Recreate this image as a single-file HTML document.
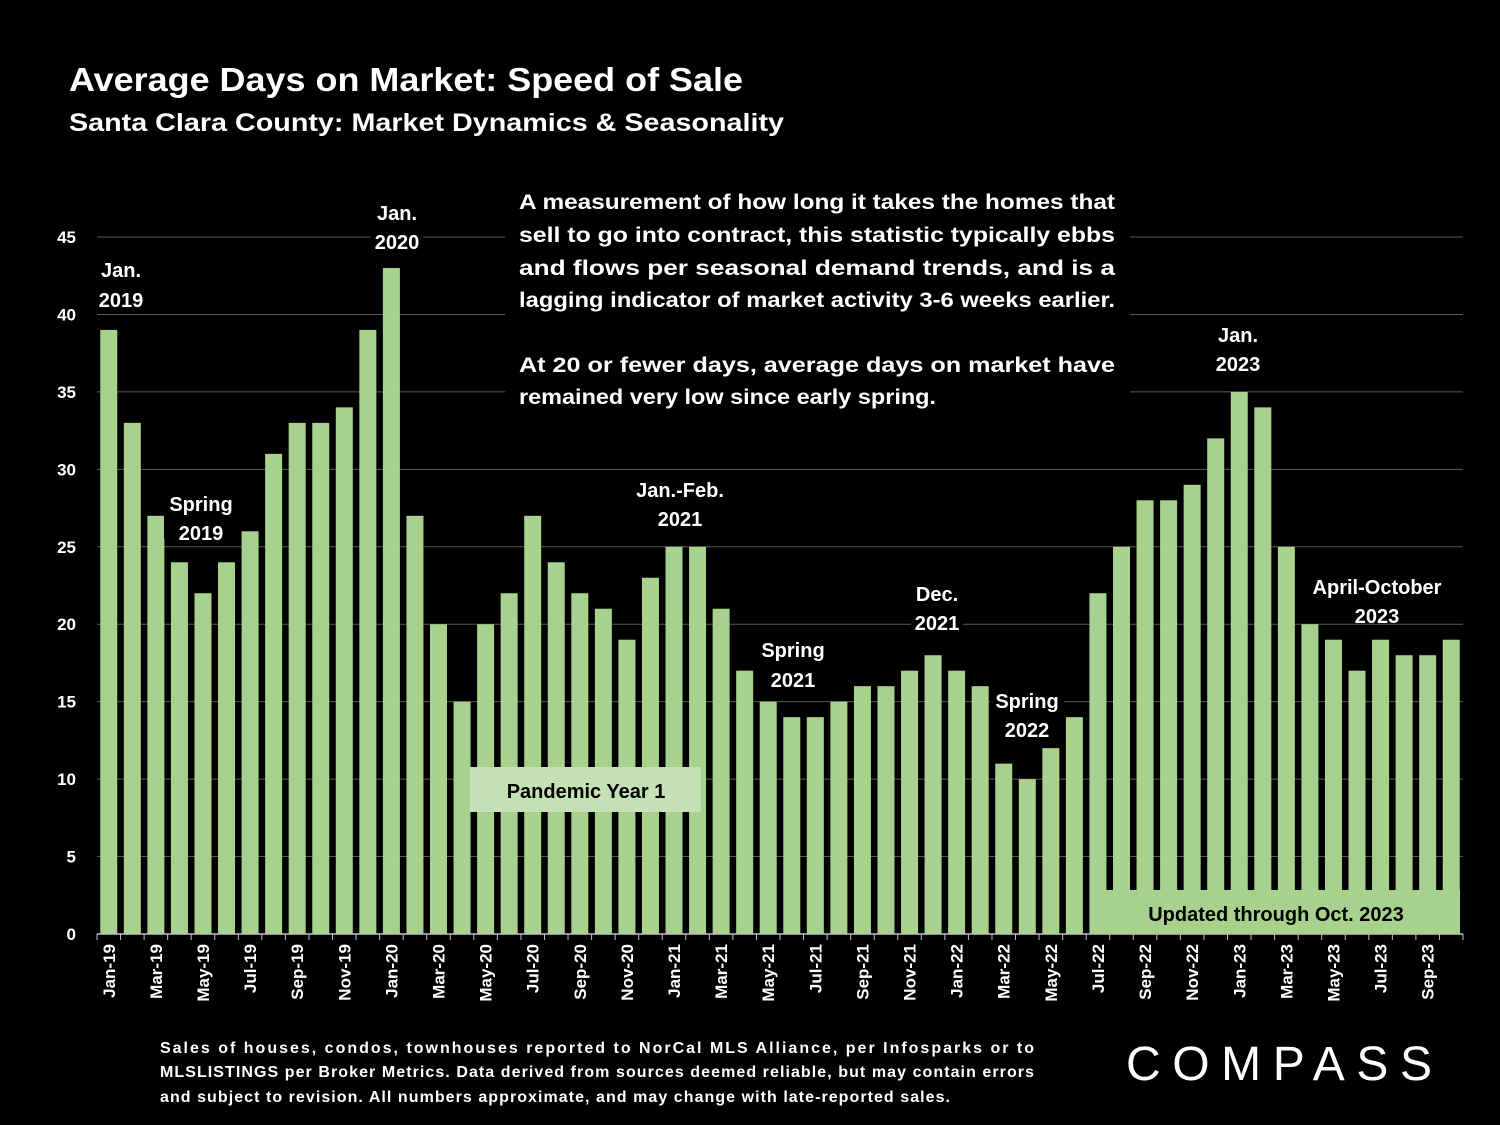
<!DOCTYPE html>
<html><head><meta charset="utf-8"><style>
body{margin:0;background:#000;width:1500px;height:1125px;overflow:hidden;font-family:"Liberation Sans",sans-serif;color:#fff}
</style></head><body>
<svg id="chart" width="1500" height="1125" xmlns="http://www.w3.org/2000/svg" style="position:absolute;left:0;top:0;font-family:'Liberation Sans',sans-serif;font-weight:bold">
<rect width="1500" height="1125" fill="#000"/>
<text x="69" y="91" font-size="33" fill="#fff" textLength="674" lengthAdjust="spacingAndGlyphs">Average Days on Market: Speed of Sale</text>
<text x="69" y="131" font-size="25" fill="#fff" textLength="715" lengthAdjust="spacingAndGlyphs">Santa Clara County: Market Dynamics &amp; Seasonality</text>
<g id="grid"></g><g id="bars"></g><g id="axes"></g>
<g id="overlays"></g>
</svg>
<script>
const categories=["Jan-19","Feb-19","Mar-19","Apr-19","May-19","Jun-19","Jul-19","Aug-19","Sep-19","Oct-19","Nov-19","Dec-19","Jan-20","Feb-20","Mar-20","Apr-20","May-20","Jun-20","Jul-20","Aug-20","Sep-20","Oct-20","Nov-20","Dec-20","Jan-21","Feb-21","Mar-21","Apr-21","May-21","Jun-21","Jul-21","Aug-21","Sep-21","Oct-21","Nov-21","Dec-21","Jan-22","Feb-22","Mar-22","Apr-22","May-22","Jun-22","Jul-22","Aug-22","Sep-22","Oct-22","Nov-22","Dec-22","Jan-23","Feb-23","Mar-23","Apr-23","May-23","Jun-23","Jul-23","Aug-23","Sep-23","Oct-23"];
const values=[39,33,27,24,22,24,26,31,33,33,34,39,43,27,20,15,20,22,27,24,22,21,19,23,25,25,21,17,15,14,14,15,16,16,17,18,17,16,11,10,12,14,22,25,28,28,29,32,35,34,25,20,19,17,19,18,18,19];
const yTicks=[0,5,10,15,20,25,30,35,40,45];
const NS="http://www.w3.org/2000/svg";
const x0=97,x1=1463,y0=934,yTop=237;
const band=(x1-x0)/categories.length;
const xc=i=>x0+band*(i+0.5);
const y=v=>y0-(v/45)*(y0-yTop);
function mk(t,a,p){const e=document.createElementNS(NS,t);for(const k in a)e.setAttribute(k,a[k]);p.appendChild(e);return e;}
const grid=document.getElementById('grid'),bars=document.getElementById('bars'),axes=document.getElementById('axes'),ov=document.getElementById('overlays');
yTicks.forEach(t=>{
 if(t>0){const l=mk('line',{x1:x0,x2:x1,y1:y(t),y2:y(t),stroke:'#595959','stroke-width':1},grid);
 
 }
 const tx=mk('text',{x:76,y:y(t)+6,'text-anchor':'end','font-size':17,fill:'#fff'},axes);tx.textContent=t;
 
 
});
values.forEach((v,i)=>{
 const r=mk('rect',{x:xc(i)-8.5,y:y(v),width:17,height:y0-y(v),fill:'#a9d18e'},bars);
 
 
});
const ax=mk('line',{x1:x0,x2:x1,y1:y0,y2:y0,stroke:'#bfbfbf','stroke-width':1.5},axes);


for(let i=0;i<=categories.length;i++){mk('line',{x1:x0+band*i,x2:x0+band*i,y1:y0,y2:y0+6,stroke:'#bfbfbf'},axes);}
categories.forEach((c,i)=>{if(i%2)return;
 const t=mk('text',{x:0,y:0,'text-anchor':'end','font-size':17,fill:'#fff',transform:`translate(${xc(i)+6},${y0+10}) rotate(-90)`},axes);t.textContent=c;
 
 
});
mk('rect',{x:505,y:183,width:625,height:232,fill:'#000'},ov);
const para=[["A measurement of how long it takes the homes that",201],["sell to go into contract, this statistic typically ebbs",234],["and flows per seasonal demand trends, and is a",267],["lagging indicator of market activity 3-6 weeks earlier.",299],["At 20 or fewer days, average days on market have",364],["remained very low since early spring.",396,417]];
para.forEach((p,k)=>{const t=mk('text',{x:519,y:p[1]+8,'font-size':21,fill:'#fff'},ov);t.textContent=p[0];
 t.setAttribute('textLength',p[2]||596);
 t.setAttribute('lengthAdjust','spacingAndGlyphs');
 
 });
const notes=[["Jan.","2019",121,270,300],["Jan.","2020",397,213,242],["Spring","2019",201,504,533],["Jan.-Feb.","2021",680,490,519],["Spring","2021",793,650,680],["Dec.","2021",937,594,623],["Spring","2022",1027,701,730],["Jan.","2023",1238,335,364],["April-October","2023",1377,587,616]];
notes.forEach(n=>{const w=Math.max(n[0].length,4)*11+8;
 const bg=mk('rect',{x:n[2]-w/2,y:n[3]-20,width:w,height:n[4]-n[3]+26,fill:'#000'},ov);
 
 
 [n[0],n[1]].forEach((s,k)=>{const t=mk('text',{x:n[2],y:(k?n[4]:n[3])+7,'text-anchor':'middle','font-size':20,fill:'#fff'},ov);t.textContent=s;
 
 });
});
const pb=mk('rect',{x:470,y:767,width:231,height:45,fill:'#c5e0b4'},ov);


const pt=mk('text',{x:586,y:798,'text-anchor':'middle','font-size':20,fill:'#000'},ov);pt.textContent='Pandemic Year 1';


const ub=mk('rect',{x:1092,y:890,width:368,height:44,fill:'#a9d18e'},ov);


const ut=mk('text',{x:1276,y:921,'text-anchor':'middle','font-size':20,fill:'#000'},ov);ut.textContent='Updated through Oct. 2023';


const foot=[["Sales of houses, condos, townhouses reported to NorCal MLS Alliance, per Infosparks or to",1053,874],["MLSLISTINGS per Broker Metrics. Data derived from sources deemed reliable, but may contain errors",1077,874],["and subject to revision. All numbers approximate, and may change with late-reported sales.",1102,790]];
foot.forEach((f,k)=>{const t=mk('text',{x:160,y:f[1],'font-size':16,fill:'#fff'},ov);t.textContent=f[0];
 t.setAttribute('textLength',f[2]);
 
 });
const lg=mk('text',{x:1282,y:1080,'text-anchor':'middle','font-size':48,'font-weight':'normal',fill:'#fff','letter-spacing':6,textLength:312},ov);lg.textContent='COMPASS';


</script>
</body></html>
